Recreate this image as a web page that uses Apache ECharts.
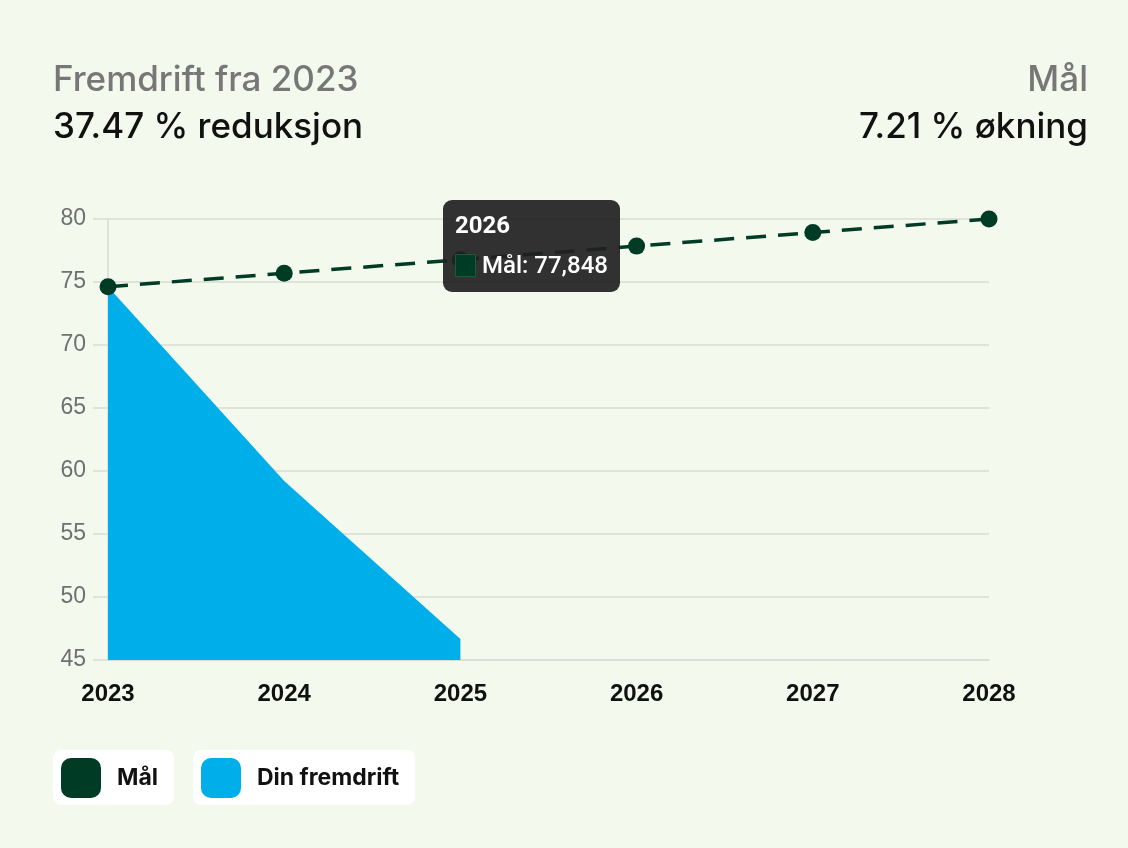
<!DOCTYPE html>
<html>
<head>
<meta charset="utf-8">
<script src="https://cdn.jsdelivr.net/npm/echarts@6/dist/echarts.min.js"></script>
<style>
  html, body { margin: 0; padding: 0; background: #f3f9ec; }
  #chart { width: 1128px; height: 848px; }
</style>
</head>
<body>
<div id="chart"></div>
<script>
const years = ['2023', '2024', '2025', '2026', '2027', '2028'];
const goalValues = [74.62, 75.696, 76.772, 77.848, 78.924, 80.0];
const progressValues = [74.62, 59.2, 46.66, null, null, null];
const yTicks = { min: 45, max: 80, interval: 5 };
const headerLeft = ['Fremdrift fra 2023', '37.47 % reduksjon'];
const headerRight = ['Mål', '7.21 % økning'];
const seriesNames = ['Mål', 'Din fremdrift'];
const tooltipIndex = 3;

const GREEN = '#003b26';
const BLUE = '#00aeea';
const GRID = '#d8ddd3';
const FONT = 'Inter, "Noto Sans", sans-serif';

const chart = echarts.init(document.getElementById('chart'), null, { renderer: 'canvas' });

const legendCommon = {
  orient: 'horizontal',
  top: 750,
  icon: 'roundRect',
  itemWidth: 40,
  itemHeight: 40,
  backgroundColor: '#ffffff',
  borderRadius: 8,
  selectedMode: false,
  textStyle: { fontFamily: FONT, fontSize: 23, fontWeight: 'bold', color: '#111', padding: [0, 0, 0, 11] }
};

function headTitle(pos, top, text, color) {
  const t = {
    top: top, padding: 0, text: text,
    textStyle: { fontFamily: FONT, fontSize: 35, fontWeight: 500, color: color }
  };
  if (pos === 'left') t.left = 53; else t.right = 40;
  return t;
}

chart.setOption({
  backgroundColor: '#f3f9ec',
  animation: false,
  textStyle: { fontFamily: FONT },
  title: [
    headTitle('left', 63, headerLeft[0], '#777777'),
    headTitle('left', 110, headerLeft[1], '#111111'),
    headTitle('right', 63, headerRight[0], '#777777'),
    headTitle('right', 110, headerRight[1], '#111111')
  ],
  legend: [
    Object.assign({}, legendCommon, { left: 53, data: [seriesNames[0]], padding: [8, 16, 7, 8] }),
    Object.assign({}, legendCommon, { left: 193, data: [seriesNames[1]], padding: [8, 16, 7, 8] })
  ],
  grid: { left: 108, right: 139, top: 219, bottom: 188, containLabel: false },
  tooltip: {
    trigger: 'item',
    alwaysShowContent: true,
    position: [443, 200],
    backgroundColor: 'rgba(32,32,32,0.92)',
    borderWidth: 0,
    borderRadius: 9,
    padding: [10, 12, 12, 12],
    extraCssText: 'box-shadow:none;',
    formatter: function (p) {
      const v = String(p.value).replace('.', ',');
      return '<div style="font-family:Roboto,Arial,sans-serif;color:#fff;">' +
        '<div style="font-size:24px;font-weight:bold;line-height:30px;">' + p.name + '</div>' +
        '<div style="font-size:24px;font-weight:500;line-height:30px;margin-top:10px;display:flex;align-items:center;">' +
        '<span style="display:inline-block;width:19px;height:21px;background:' + GREEN + ';border:1px solid #1c5a3c;margin-right:6px;"></span>' +
        p.seriesName + ': ' + v + '</div></div>';
    }
  },
  xAxis: {
    type: 'category',
    data: years,
    boundaryGap: false,
    axisLine: { show: true, lineStyle: { color: GRID, width: 1.5 } },
    axisTick: { show: false },
    axisLabel: { margin: 22, fontFamily: 'Liberation Sans, Arial, sans-serif', fontSize: 24, fontWeight: 'bold', color: '#111' },
    splitLine: { show: false }
  },
  yAxis: {
    type: 'value',
    min: yTicks.min,
    max: yTicks.max,
    interval: yTicks.interval,
    axisLine: { show: true, lineStyle: { color: GRID, width: 1.5 } },
    axisTick: { show: true, length: 15, lineStyle: { color: GRID, width: 1.5 } },
    axisLabel: { margin: 22, fontFamily: 'Liberation Sans, Arial, sans-serif', fontSize: 23, color: '#707070' },
    splitLine: { show: true, lineStyle: { color: GRID, width: 1.5 } }
  },
  series: [
    {
      name: seriesNames[1],
      type: 'line',
      data: progressValues,
      symbol: 'none',
      lineStyle: { width: 0 },
      itemStyle: { color: BLUE },
      areaStyle: { color: BLUE, opacity: 1, origin: 'start' },
      z: 1
    },
    {
      name: seriesNames[0],
      type: 'line',
      data: goalValues,
      symbol: 'circle',
      symbolSize: 17,
      itemStyle: { color: GREEN },
      lineStyle: { color: GREEN, width: 3.5, type: [20, 12] },
      z: 3
    }
  ]
});

chart.dispatchAction({ type: 'showTip', seriesIndex: 1, dataIndex: tooltipIndex });
</script>
</body>
</html>
